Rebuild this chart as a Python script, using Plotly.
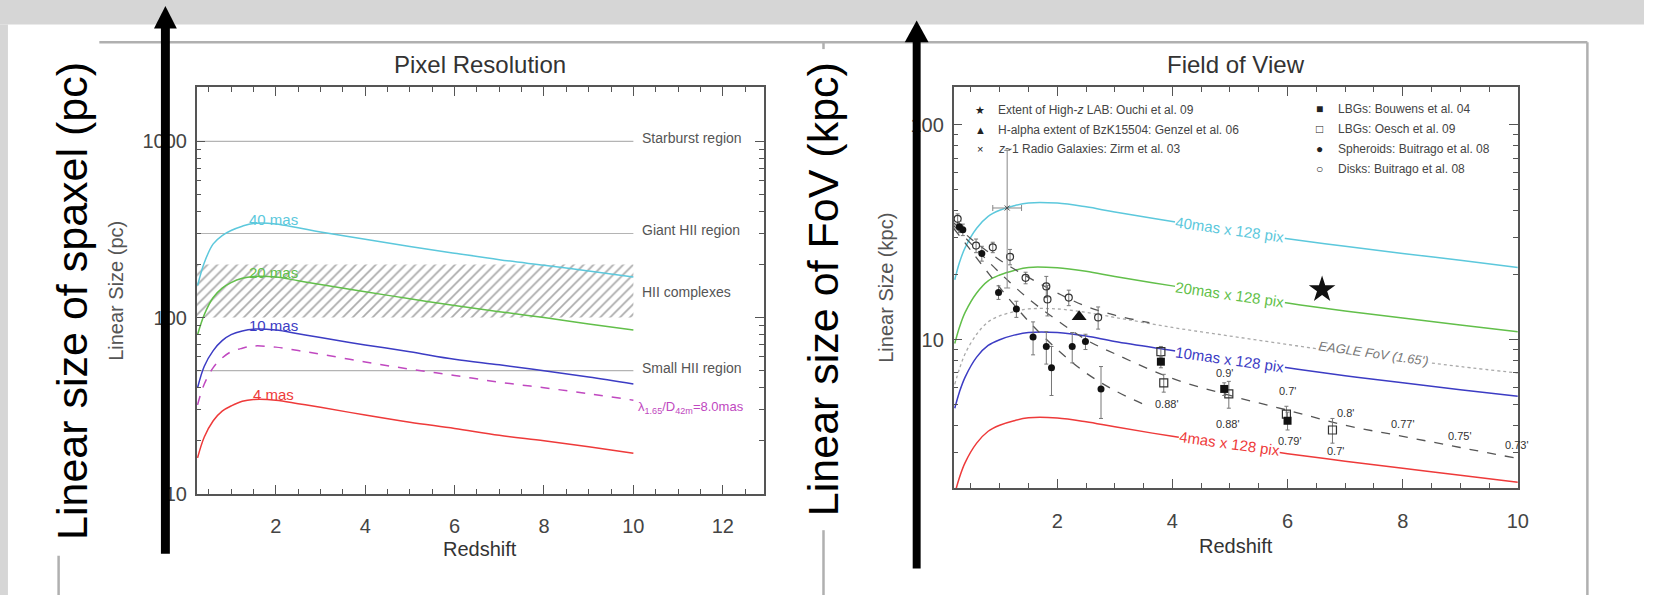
import math
import plotly.graph_objects as go

W, H = 1655, 606
def px(x): return x / W
def py(y): return 1 - y / H
def lg(v): return math.log10(v)

FONT = "Liberation Sans, Arial, Helvetica, sans-serif"
CYAN, GREEN, BLUE, RED, PURPLE = "#5cc8dc", "#62bf4a", "#3c3cc4", "#ee3a3a", "#c048c0"
TXT = "#444444"

# ---------------- Left panel: Pixel Resolution (pc) ----------------
z_pix = [0.25, 0.4, 0.6, 0.8, 1.0, 1.25, 1.5, 2.0, 2.5, 3, 4, 5, 6, 7, 8, 9, 10]
pix_40mas = [152, 205, 262, 292, 312, 330, 342, 340, 323, 306, 278, 253, 232, 213, 198, 184, 170]
pix_20mas = [80, 104, 130, 147, 158, 167, 171, 170, 162, 154, 140, 128, 117, 108, 100, 92, 85]
pix_10mas = [40, 53, 65, 74, 80, 84, 86, 85, 81, 77, 70, 64, 58, 54, 50, 46, 42]
pix_diff = [32, 42, 52, 59, 64, 67, 69, 68, 65, 62, 56, 51, 47, 43, 40, 37, 34]
pix_4mas = [16, 21, 26, 29.5, 31.5, 33.5, 34.3, 34, 32.5, 31, 28, 25.5, 23.5, 21.5, 20, 18.5, 17]
region_levels = [1000, 300, 50]
region_names = ["Starburst region", "Giant HII region", "Small HII region"]
hii_complex_range = [100, 200]
region_z = [0.2, 10]

# ---------------- Right panel: Field of View (kpc) ----------------
z_fov = [0.22, 0.3, 0.4, 0.6, 0.8, 1.0, 1.25, 1.5, 2, 2.5, 3, 4, 5, 6, 7, 8, 9, 10]
fov_40mas = [19, 22.8, 26.8, 33, 37.5, 40, 42, 43.3, 43.2, 41.5, 39.3, 35.5, 32.3, 29.5, 27.2, 25.2, 23.4, 21.7]
fov_20mas = [9.6, 11.4, 13.4, 16.5, 18.8, 20, 21, 21.7, 21.6, 20.8, 19.7, 17.8, 16.2, 14.8, 13.6, 12.6, 11.7, 10.9]
fov_10mas = [4.8, 5.7, 6.7, 8.3, 9.4, 10, 10.5, 10.8, 10.8, 10.4, 9.8, 8.9, 8.1, 7.4, 6.8, 6.3, 5.85, 5.45]
fov_4mas = [1.92, 2.28, 2.68, 3.3, 3.75, 4.0, 4.2, 4.33, 4.32, 4.15, 3.93, 3.55, 3.23, 2.95, 2.72, 2.52, 2.34, 2.17]
fov_eagle = [6.2, 7.3, 8.6, 10.6, 12.1, 12.9, 13.5, 13.9, 13.9, 13.4, 12.7, 11.4, 10.4, 9.5, 8.7, 8.1, 7.5, 7.0]

fitA_z = [0.2, 0.5, 1.0, 1.5, 2.0, 2.5, 3.0, 3.5]
fitA = [33, 26, 17.5, 12.2, 9.0, 7.0, 5.8, 5.0]
fitB_z = [0.2, 0.5, 1.0, 1.5, 2.0, 2.5, 3.0, 4.0, 5.0, 6.0, 7.0, 8.0, 9.0, 10.0]
fitB = [34, 28, 20.5, 15.5, 12.3, 10.0, 8.6, 6.6, 5.5, 4.7, 4.0, 3.55, 3.15, 2.8]
fitC_z = [0.2, 0.5, 1.0, 1.5, 2.0, 2.5, 3.0, 3.6]
fitC = [35, 29.5, 23.5, 19.5, 16.5, 14.3, 13.0, 12.0]

spheroid_z = [0.3, 0.36, 0.69, 0.98, 1.29, 1.58, 1.81, 1.9, 2.26, 2.49, 2.76]
spheroid_size = [33.5, 32.5, 25.2, 16.6, 13.9, 10.3, 9.3, 7.4, 9.3, 9.8, 5.9]
spheroid_err = [2, 2, 2, 1.2, 1.2, 1.8, 1.6, 1.9, 1.5, 0.8, 1.6]
disk_z = [0.27, 0.59, 0.88, 1.18, 1.45, 1.81, 1.83, 2.2, 2.71]
disk_size = [36.5, 27.4, 26.9, 24.3, 19.4, 17.7, 15.4, 15.7, 12.7]
disk_err = [2, 2, 1.5, 2, 1.2, 2, 2.5, 1.3, 1.5]
bouwens_z = [3.8, 4.9, 6.0]
bouwens_size = [7.9, 5.9, 4.2]
bouwens_err = [0.5, 0.4, 0.4]
oesch_z = [3.8, 3.85, 4.98, 5.98, 6.78]
oesch_size = [8.8, 6.3, 5.6, 4.5, 3.8]
oesch_err = [0.5, 0.6, 0.8, 0.4, 0.5]
zirm_z, zirm_size, zirm_up, zirm_down, zirm_zerr = [1.13], [41], [35], [23.6], [0.25]
genzel_z, genzel_size = [2.38], [12.8]
ouchi_z, ouchi_size = [6.6], [17.1]

angle_labels = ["0.88'", "0.9'", "0.88'", "0.7'", "0.79'", "0.8'", "0.7'", "0.77'", "0.75'", "0.73'"]
angle_z = [3.9, 4.91, 4.97, 6.0, 6.05, 7.0, 6.83, 8.0, 9.0, 9.98]
angle_y = [5.0, 7.0, 4.05, 5.8, 3.37, 4.57, 3.04, 4.05, 3.58, 3.24]

legend_left = [("★", "Extent of High-<i>z</i> LAB: Ouchi et al. 09"),
               ("▲", "H-alpha extent of BzK15504: Genzel et al. 06"),
               ("×", "<i>z</i>~1 Radio Galaxies: Zirm et al. 03")]
legend_right = [("■", "LBGs: Bouwens et al. 04"),
                ("□", "LBGs: Oesch et al. 09"),
                ("●", "Spheroids: Buitrago et al. 08"),
                ("○", "Disks: Buitrago et al. 08")]

fig = go.Figure()

# hatched HII complexes band
fig.add_trace(go.Scatter(
    x=[region_z[0], region_z[1], region_z[1], region_z[0], region_z[0]],
    y=[hii_complex_range[0], hii_complex_range[0], hii_complex_range[1], hii_complex_range[1], hii_complex_range[0]],
    fill="toself", mode="lines", line=dict(width=0),
    fillpattern=dict(shape="/", fgcolor="#555555", bgcolor="rgba(0,0,0,0)", size=7, solidity=0.24),
    fillcolor="rgba(0,0,0,0)", xaxis="x", yaxis="y", showlegend=False, hoverinfo="skip"))
for lvl in region_levels:
    fig.add_trace(go.Scatter(x=region_z, y=[lvl, lvl], mode="lines",
                             line=dict(color="#b4b4b4", width=1.2), xaxis="x", yaxis="y", showlegend=False))
for vals, col, dash in [(pix_40mas, CYAN, "solid"), (pix_20mas, GREEN, "solid"), (pix_10mas, BLUE, "solid"),
                        (pix_diff, PURPLE, "dash"), (pix_4mas, RED, "solid")]:
    fig.add_trace(go.Scatter(x=z_pix, y=vals, mode="lines", line=dict(color=col, width=1.5, dash=dash, shape="spline"),
                             xaxis="x", yaxis="y", showlegend=False))

# right panel curves
for vals, col in [(fov_40mas, CYAN), (fov_20mas, GREEN), (fov_10mas, BLUE), (fov_4mas, RED)]:
    fig.add_trace(go.Scatter(x=z_fov, y=vals, mode="lines", line=dict(color=col, width=1.5, shape="spline"),
                             xaxis="x2", yaxis="y2", showlegend=False))
fig.add_trace(go.Scatter(x=z_fov, y=fov_eagle, mode="lines", line=dict(color="#aaaaaa", width=1.3, dash="dot", shape="spline"),
                         xaxis="x2", yaxis="y2", showlegend=False))
for zz, vv in [(fitA_z, fitA), (fitB_z, fitB), (fitC_z, fitC)]:
    fig.add_trace(go.Scatter(x=zz, y=vv, mode="lines", line=dict(color="#555555", width=1.3, dash="dash", shape="spline"),
                             xaxis="x2", yaxis="y2", showlegend=False))

EB = dict(type="data", color="#777777", thickness=1, width=2)
fig.add_trace(go.Scatter(x=disk_z, y=disk_size, mode="markers", error_y=dict(array=disk_err, **EB),
                         marker=dict(symbol="circle-open", size=7, color="#333333", line=dict(width=1.2)),
                         xaxis="x2", yaxis="y2", showlegend=False))
fig.add_trace(go.Scatter(x=spheroid_z, y=spheroid_size, mode="markers", error_y=dict(array=spheroid_err, **EB),
                         marker=dict(symbol="circle", size=7, color="#111111"),
                         xaxis="x2", yaxis="y2", showlegend=False))
fig.add_trace(go.Scatter(x=oesch_z, y=oesch_size, mode="markers", error_y=dict(array=oesch_err, **EB),
                         marker=dict(symbol="square-open", size=8, color="#333333", line=dict(width=1.2)),
                         xaxis="x2", yaxis="y2", showlegend=False))
fig.add_trace(go.Scatter(x=bouwens_z, y=bouwens_size, mode="markers", error_y=dict(array=bouwens_err, **EB),
                         marker=dict(symbol="square", size=8, color="#111111"),
                         xaxis="x2", yaxis="y2", showlegend=False))
fig.add_trace(go.Scatter(x=zirm_z, y=zirm_size, mode="markers",
                         error_y=dict(type="data", symmetric=False, array=zirm_up, arrayminus=zirm_down,
                                      color="#888888", thickness=1, width=3),
                         error_x=dict(type="data", array=zirm_zerr, color="#888888", thickness=1, width=3),
                         marker=dict(symbol="x-thin", size=5, color="#666666", line=dict(width=1)),
                         xaxis="x2", yaxis="y2", showlegend=False))
fig.add_trace(go.Scatter(x=genzel_z, y=genzel_size, mode="markers",
                         marker=dict(symbol="triangle-up", size=13, color="#111111"),
                         xaxis="x2", yaxis="y2", showlegend=False))
fig.add_trace(go.Scatter(x=ouchi_z, y=ouchi_size, mode="markers",
                         marker=dict(symbol="star", size=20, color="#111111"),
                         xaxis="x2", yaxis="y2", showlegend=False))

AX = dict(showline=True, linecolor="#555555", linewidth=1.5, mirror="ticks", ticks="inside",
          tickcolor="#555555", tickwidth=1.2, ticklen=9, showgrid=False, zeroline=False,
          tickfont=dict(family=FONT, size=20, color=TXT))
minor_x1 = [i * 0.5 for i in range(1, 26)]
minor_x2 = [i * 0.5 for i in range(1, 20)]
minor_log = [m * d for d in (1, 10, 100, 1000) for m in range(2, 10)]

fig.update_layout(
    width=W, height=H, autosize=False, margin=dict(l=0, r=0, t=0, b=0),
    paper_bgcolor="white", plot_bgcolor="white", showlegend=False,
    xaxis=dict(AX, domain=[px(198), px(769)], range=[0.23, 12.92], anchor="y",
               tickvals=[2, 4, 6, 8, 10, 12], ticklabelstandoff=13,
               minor=dict(tickmode="array", tickvals=minor_x1, ticks="inside", ticklen=5, tickcolor="#555555")),
    yaxis=dict(AX, type="log", domain=[py(503), py(89)], range=[1, 3.306], anchor="x",
               tickvals=[10, 100, 1000], ticktext=["10", "100", "1000"], ticklabelstandoff=4,
               minor=dict(tickmode="array", tickvals=minor_log, ticks="inside", ticklen=5, tickcolor="#555555")),
    xaxis2=dict(AX, domain=[px(960), px(1528)], range=[0.2, 10], anchor="y2",
                tickvals=[2, 4, 6, 8, 10], ticklabelstandoff=14,
                minor=dict(tickmode="array", tickvals=minor_x2, ticks="inside", ticklen=5, tickcolor="#555555")),
    yaxis2=dict(AX, type="log", domain=[py(497), py(89)], range=[0.31, 2.174], anchor="x2",
                tickvals=[10, 100], ticktext=["10", "100"], ticklabelstandoff=4,
                minor=dict(tickmode="array", tickvals=minor_log, ticks="inside", ticklen=5, tickcolor="#555555")),
)

ann = []
def a_paper(text, x, y, size, color="#333333", angle=0, xa="center", ya="middle"):
    ann.append(dict(text=text, x=px(x), y=py(y), xref="paper", yref="paper", showarrow=False,
                    textangle=angle, xanchor=xa, yanchor=ya, font=dict(family=FONT, size=size, color=color)))

a_paper("Pixel Resolution", 483, 66, 24)
a_paper("Field of View", 1244, 66, 24)
a_paper("Redshift", 483, 559, 20)
a_paper("Redshift", 1244, 556, 20)
a_paper("Linear Size (pc)", 116, 296, 20, color="#555555", angle=-90)
a_paper("Linear Size (kpc)", 892, 293, 20, color="#555555", angle=-90)
a_paper("Linear size of spaxel (pc)", 73, 307, 43, color="black", angle=-90)
a_paper("Linear size of FoV (kpc)", 828, 294, 43, color="black", angle=-90)

for i, (sym, txt) in enumerate(legend_left):
    yy = 112 + 20 * i
    a_paper(sym, 987, yy, 11, color="#222222")
    a_paper(txt, 1003, yy, 12, color=TXT, xa="left")
for i, (sym, txt) in enumerate(legend_right):
    yy = 111 + 20.5 * i
    a_paper(sym, 1328, yy, 12, color="#222222")
    a_paper(txt, 1345, yy, 12, color=TXT, xa="left")

def a_data(text, x, y, size, color, xr, yr, xa="center", ya="middle", angle=0, yshift=0, italic=False, bg=None):
    d = dict(text=text, x=x, y=lg(y), xref=xr, yref=yr, showarrow=False, textangle=angle,
             xanchor=xa, yanchor=ya, yshift=yshift,
             font=dict(family=FONT, size=size, color=color, style="italic" if italic else "normal"))
    if bg:
        d["bgcolor"] = bg
        d["borderpad"] = 0
    ann.append(d)

for txt, val, col in [("40 mas", 346, CYAN), ("20 mas", 173, GREEN), ("10 mas", 87, BLUE), ("4 mas", 35, RED)]:
    a_data(txt, 1.95, val, 15, col, "x", "y", yshift=3)
for name, lvl in zip(region_names, region_levels):
    a_data(name, 10.15, lvl, 14, "#555555", "x", "y", xa="left", yshift=3)
a_data("HII complexes", 10.15, 139, 14, "#555555", "x", "y", xa="left")
a_data("λ<sub>1.65</sub>/D<sub>42m</sub>=8.0mas", 10.05, 31, 13, PURPLE, "x", "y", xa="left")

for txt, val, col in [("40mas x 128 pix", 32.6, CYAN), ("20mas x 128 pix", 16.3, GREEN),
                      ("10mas x 128 pix", 8.1, BLUE), ("4mas x 128 pix", 3.3, RED)]:
    a_data(txt, 5.0, val, 15, col, "x2", "y2", angle=8, bg="white")
a_data("EAGLE FoV (1.65')", 7.5, 8.6, 13, "#777777", "x2", "y2", angle=8, italic=True, bg="white")
for t, zz, yy in zip(angle_labels, angle_z, angle_y):
    a_data(t, zz, yy, 11, "#333333", "x2", "y2")

fig.update_layout(annotations=ann)

shapes = []
def rect(x0, y0, x1, y1, color):
    shapes.append(dict(type="rect", xref="paper", yref="paper", x0=px(x0), x1=px(x1), y0=py(y1), y1=py(y0),
                       fillcolor=color, line=dict(width=0), layer="above"))
def line(x0, y0, x1, y1, color="#b0b0b0", width=2.5):
    shapes.append(dict(type="line", xref="paper", yref="paper", x0=px(x0), x1=px(x1), y0=py(y0), y1=py(y1),
                       line=dict(color=color, width=width), layer="above"))

rect(0, 0, W, 25, "#d6d6d6")
rect(0, 25, 8, H, "#d6d6d6")
line(100, 43, 1598, 43)
line(1598, 43, 1598, H)
line(829, 43, 829, 50)
line(829, 540, 829, H)
line(59, 566, 59, H)

def arrow(cx, tip, base, bottom, shaft_w, head_w):
    rect(cx - shaft_w / 2, base - 1, cx + shaft_w / 2, bottom, "black")
    path = "M {},{} L {},{} L {},{} Z".format(px(cx - head_w / 2), py(base), px(cx + head_w / 2), py(base),
                                              px(cx), py(tip))
    shapes.append(dict(type="path", xref="paper", yref="paper", path=path, fillcolor="black",
                       line=dict(width=0), layer="above"))

arrow(166.5, 6, 29, 564, 9, 23)
arrow(922.8, 21, 43, 579, 8, 24)

fig.update_layout(shapes=shapes)
fig.write_html("out.html")
